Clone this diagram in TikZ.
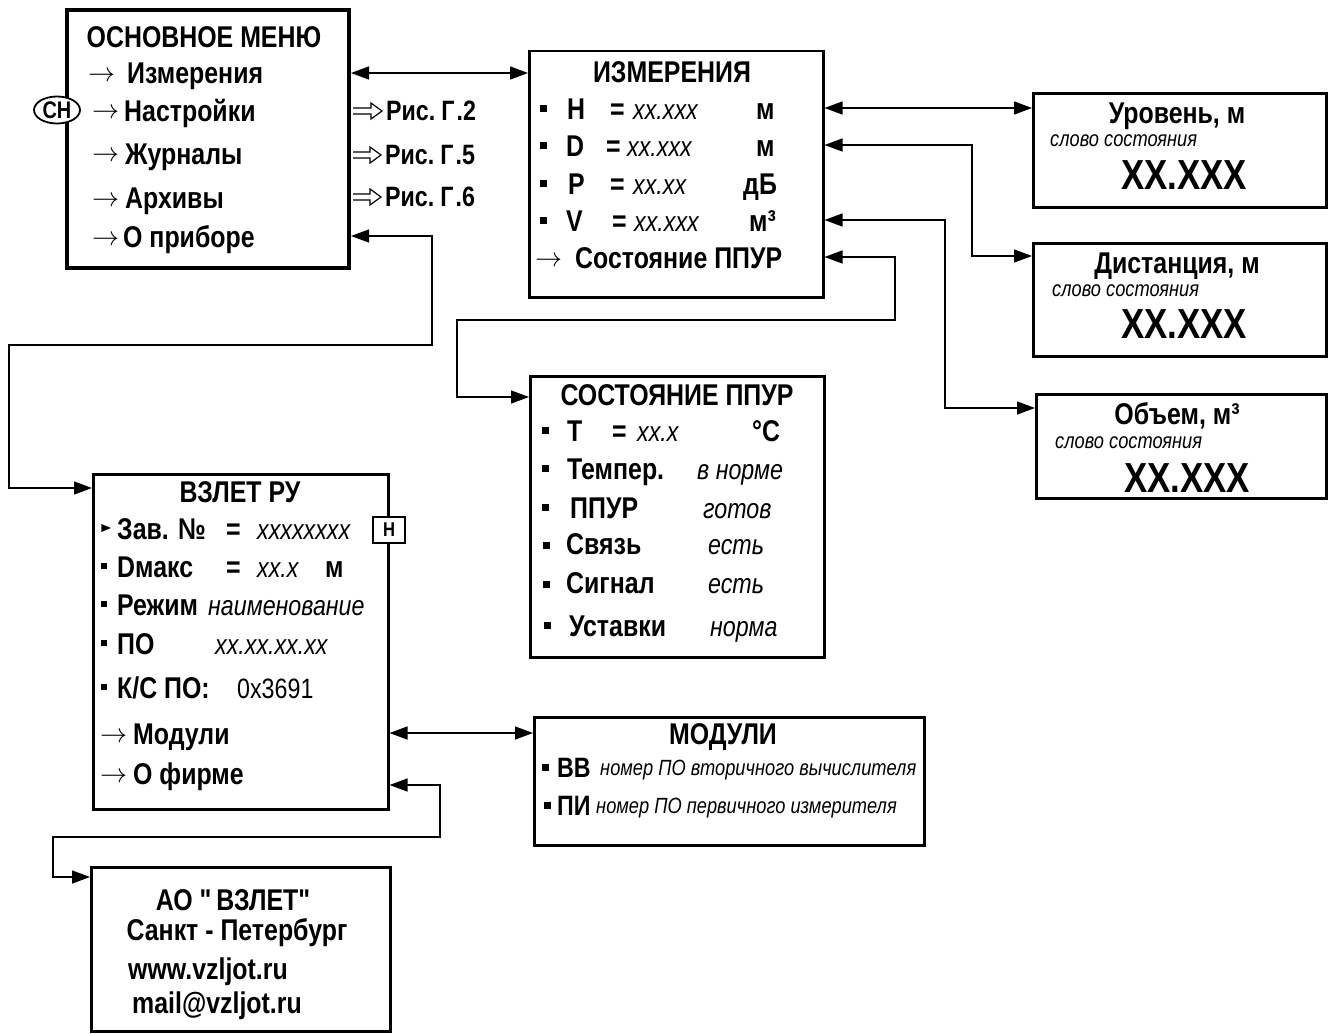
\documentclass[tikz,border=0pt]{standalone}
\usepackage{graphicx}
\usepackage{fontspec}
\setmainfont{Liberation Sans}[FakeStretch=0.83]
\setmonofont{Liberation Sans}[FakeStretch=0.83]
\usetikzlibrary{arrows.meta,shapes.geometric,calc}
\newcommand\fs[1]{\fontsize{#1}{#1}\selectfont}
\newcommand\ar{\raisebox{2pt}{{\fontsize{10}{10}\selectfont\scalebox{2.7}{$\rightarrow$}}}}
\tikzset{
  bx/.style={draw, line width=2.5pt, rectangle, inner sep=0pt, anchor=north west},
  con/.style={line width=1.3pt, {Triangle[length=18pt,width=13pt]}-{Triangle[length=18pt,width=13pt]}},
  holl/.style={line width=1.2pt, line join=miter},
  tb/.style={anchor=base west, inner sep=0pt, font=\fs{30}\bfseries},
  ti/.style={anchor=base west, inner sep=0pt, font=\fs{28}\itshape},
  tsi/.style={anchor=base west, inner sep=0pt, font=\fs{22}\itshape},
  ttl/.style={anchor=center, inner sep=0pt, font=\fs{30}\bfseries},
  big/.style={anchor=base, inner sep=0pt, font=\fs{42}\bfseries},
  ris/.style={anchor=west, inner sep=0pt, font=\fs{28}\bfseries},
  blt/.style={fill, rectangle, minimum size=7pt, inner sep=0pt, outer sep=0pt, text width=0pt, text height=0pt, text depth=0pt, font=\fs{1}},
}
\begin{document}
\begin{tikzpicture}[x=1pt,y=-1pt]
\useasboundingbox (0,0) rectangle (1335,1033);

% ---------------- main menu
\node[bx, line width=4pt, minimum width=282pt, minimum height=258pt] (menu) at (65,8) {};
\node[ttl] (mt) at (204,37) {ОСНОВНОЕ МЕНЮ};
\node[tb] (m1) at (88,84) {\ar\hspace{12pt}Измерения};
\node[tb] (m2) at (92,121) {\ar\hspace{5pt}Настройки};
\node[tb] (m3) at (92,164) {\ar\hspace{6pt}Журналы};
\node[tb] (m4) at (92,208) {\ar\hspace{6pt}Архивы};
\node[tb] (m5) at (92,247) {\ar\hspace{4pt}О приборе};
\node[ellipse, draw, fill=white, line width=1.8pt, minimum width=46pt, minimum height=27pt, inner sep=0pt, font=\fs{24}\bfseries] (sn) at (57,110) {СН};
\node[ris] (ris2) at (386,111) {Рис.\hspace{6pt}Г\hspace{2pt}.2};
\node[ris] (ris5) at (385,155) {Рис.\hspace{6pt}Г\hspace{2pt}.5};
\node[ris] (ris6) at (385,197) {Рис.\hspace{6pt}Г\hspace{2pt}.6};
\foreach \r in {ris2,ris5,ris6}{
  \draw[holl] let \p1=(menu.east), \p2=(\r.west) in
    (\x1+2pt,\y2+3pt) -- (\x2-15pt,\y2+3pt) -- (\x2-15pt,\y2+8pt) -- (\x2-4pt,\y2)
    -- (\x2-15pt,\y2-8pt) -- (\x2-15pt,\y2-3pt) -- (\x1+2pt,\y2-3pt);
}

% ---------------- ИЗМЕРЕНИЯ
\node[bx, minimum width=294pt, minimum height=246pt] (izm) at (528,50) {};
\node[ttl] (it) at (672,72) {ИЗМЕРЕНИЯ};
\node[blt] (ib1) at (543,108) {};
\node[blt] (ib2) at (543,145) {};
\node[blt] (ib3) at (543,183) {};
\node[blt] (ib4) at (543,220) {};
\node[tb] (iH) at (567,119) {H};
\node[tb] (iD) at (566,156) {D};
\node[tb] (iP) at (568,194) {P};
\node[tb] (iV) at (566,231) {V};
\node[tb] (ie1) at (610,119) {=};
\node[tb] (ie2) at (606,156) {=};
\node[tb] (ie3) at (610,194) {=};
\node[tb] (ie4) at (612,231) {=};
\node[ti] (iv1) at (633,119) {xx.xxx};
\node[ti] (iv2) at (627,156) {xx.xxx};
\node[ti] (iv3) at (633,194) {xx.xx};
\node[ti] (iv4) at (634,231) {xx.xxx};
\node[tb] (iu1) at (756,119) {м};
\node[tb] (iu2) at (756,156) {м};
\node[tb] (iu3) at (743,194) {дБ};
\node[tb] (iu4) at (749,231) {м³};
\node[tb] (is) at (535,268) {\ar\hspace{13pt}Состояние ППУР};

% ---------------- right boxes
\node[bx, minimum width=293pt, minimum height=114pt] (ur) at (1032,92) {};
\node[ttl, anchor=base] (urt) at (1177,123) {Уровень, м};
\node[tsi] (urs) at (1050,146) {слово состояния};
\node[big] (urv) at (1184,189) {XX.XXX};

\node[bx, minimum width=293pt, minimum height=113pt] (di) at (1032,242) {};
\node[ttl, anchor=base] (dit) at (1177,273) {Дистанция, м};
\node[tsi] (dis) at (1052,296) {слово состояния};
\node[big] (div) at (1184,338) {XX.XXX};

\node[bx, minimum width=290pt, minimum height=104pt] (ob) at (1035,393) {};
\node[ttl, anchor=base] (obt) at (1177,424) {Объем, м³};
\node[tsi] (obs) at (1055,448) {слово состояния};
\node[big] (obv) at (1187,492) {XX.XXX};

% ---------------- СОСТОЯНИЕ ППУР
\node[bx, minimum width=294pt, minimum height=281pt] (st) at (529,375) {};
\node[ttl] (stt) at (677,395) {СОСТОЯНИЕ ППУР};
\node[blt] (sb1) at (545,430) {};
\node[blt] (sb2) at (545,468) {};
\node[blt] (sb3) at (545,507) {};
\node[blt] (sb4) at (546,545) {};
\node[blt] (sb5) at (546,584) {};
\node[blt] (sb6) at (547,625) {};
\node[tb] (sT) at (567,441) {T};
\node[tb] (se) at (612,441) {=};
\node[ti] (sv) at (637,441) {xx.x};
\node[tb] (sc) at (752,441) {°C};
\node[tb] (s2) at (567,479) {Темпер.};
\node[ti] (s2v) at (697,479) {в норме};
\node[tb] (s3) at (570,518) {ППУР};
\node[ti] (s3v) at (703,518) {готов};
\node[tb] (s4) at (566,554) {Связь};
\node[ti] (s4v) at (708,554) {есть};
\node[tb] (s5) at (566,593) {Сигнал};
\node[ti] (s5v) at (708,593) {есть};
\node[tb] (s6) at (569,636) {Уставки};
\node[ti] (s6v) at (710,636) {норма};

% ---------------- ВЗЛЕТ РУ
\node[bx, minimum width=295pt, minimum height=335pt] (vz) at (92,473) {};
\node[ttl] (vzt) at (240,492) {ВЗЛЕТ РУ};
\node[isosceles triangle, fill, minimum height=7pt, minimum width=8pt, inner sep=0pt] (vtr) at (104,528) {};
\node[blt, minimum size=6pt] (vb2) at (104,566) {};
\node[blt, minimum size=6pt] (vb3) at (104,604) {};
\node[blt, minimum size=6pt] (vb4) at (104,643) {};
\node[blt, minimum size=6pt] (vb5) at (104,687) {};
\node[tb] (v1) at (117,539) {Зав. №};
\node[tb] (v1e) at (226,539) {=};
\node[ti] (v1v) at (257,539) {xxxxxxxx};
\node[draw, fill=white, line width=1.5pt, minimum width=32pt, minimum height=26pt, inner sep=0pt, font=\fs{20}\bfseries] (hb) at (389,530) {Н};
\node[tb] (v2) at (117,577) {Dмакс};
\node[tb] (v2e) at (226,577) {=};
\node[ti] (v2v) at (257,577) {xx.x};
\node[tb] (v2u) at (325,577) {м};
\node[tb] (v3) at (117,615) {Режим};
\node[ti] (v3v) at (208,615) {наименование};
\node[tb] (v4) at (117,654) {ПО};
\node[ti] (v4v) at (215,654) {xx.xx.xx.xx};
\node[tb] (v5) at (117,698) {К/С ПО:};
\node[anchor=base west, inner sep=0pt, font=\fs{28}] (v5v) at (237,698) {0x3691};
\node[tb] (v6) at (100,744) {\ar\hspace{6pt}Модули};
\node[tb] (v7) at (100,784) {\ar\hspace{6pt}О фирме};

% ---------------- МОДУЛИ
\node[bx, minimum width=390pt, minimum height=128pt] (mo) at (533,716) {};
\node[ttl] (mot) at (723,737) {МОДУЛИ};
\node[blt] (mb1) at (545,767) {};
\node[blt] (mb2) at (547,805) {};
\node[anchor=base west, inner sep=0pt, font=\fs{28}\bfseries] (mo1) at (557,777) {ВВ};
\node[tsi] (mo1v) at (600,775) {номер ПО вторичного вычислителя};
\node[anchor=base west, inner sep=0pt, font=\fs{28}\bfseries] (mo2) at (557,815) {ПИ};
\node[tsi] (mo2v) at (596,813) {номер ПО первичного измерителя};

% ---------------- АО ВЗЛЕТ
\node[bx, minimum width=299pt, minimum height=164pt] (ao) at (90,866) {};
\node[ttl, font=\fs{30}\ttfamily\bfseries] (aot) at (233,900) {АО "\,ВЗЛЕТ"};
\node[ttl] (ao2) at (237,933) {Санкт - Петербург};
\node[tb] (ao3) at (128,979) {www.vzljot.ru};
\node[tb] (ao4) at (132,1013) {mail@vzljot.ru};

% ---------------- connectors
\coordinate (rIzm) at (0,73);
\coordinate (rPr) at (0,236);
\coordinate (rH) at (0,108);
\coordinate (rD) at (0,145);
\coordinate (rV) at (0,220);
\coordinate (rS) at (0,257);
\coordinate (rMod) at (0,733);
\coordinate (rF) at (0,785);
\coordinate (cD) at (972,256);
\coordinate (cV) at (945,408);
\coordinate (cS1) at (895,320);
\coordinate (cS2) at (457,397);
\coordinate (cP1) at (432,345);
\coordinate (cP2) at (9,488);
\coordinate (cF1) at (440,837);
\coordinate (cF2) at (53,877);

\draw[con] (menu.east |- rIzm) -- (izm.west |- rIzm);
\draw[con] (izm.east |- rH) -- (ur.west |- rH);
\draw[con] (izm.east |- rD) -| (cD) -- (di.west |- cD);
\draw[con] (izm.east |- rV) -| (cV) -- (ob.west |- cV);
\draw[con] (izm.east |- rS) -| (cS1) -| (cS2) -- (st.west |- cS2);
\draw[con] (menu.east |- rPr) -| (cP1) -| (cP2) -- (vz.west |- cP2);
\draw[con] (vz.east |- rMod) -- (mo.west |- rMod);
\draw[con] (vz.east |- rF) -| (cF1) -| (cF2) -- (ao.west |- cF2);
\end{tikzpicture}
\end{document}
